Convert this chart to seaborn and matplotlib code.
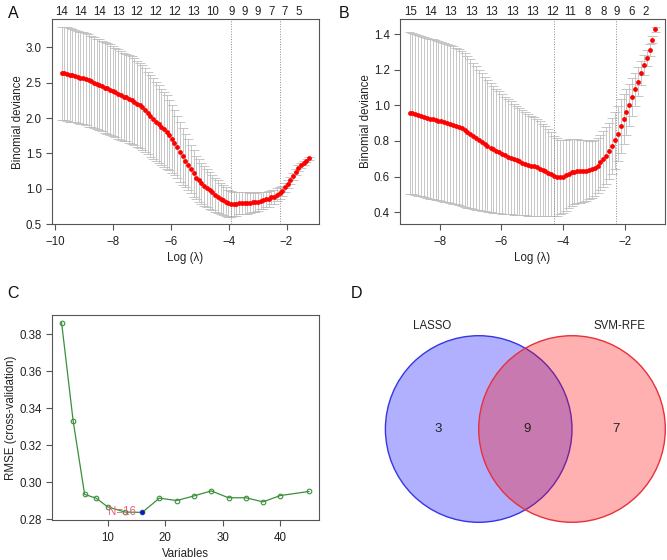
import numpy as np
import pandas as pd
import matplotlib
matplotlib.use("Agg")
import matplotlib.pyplot as plt
import seaborn as sns
from matplotlib.patches import Circle

# ---------------- Panel A : LASSO cross-validation (cohort 1) ----------------
a_loglam = [-9.77, -9.68, -9.58, -9.49, -9.40, -9.31, -9.21, -9.12, -9.03, -8.93,
            -8.84, -8.75, -8.66, -8.56, -8.47, -8.38, -8.28, -8.19, -8.10, -8.00,
            -7.91, -7.82, -7.73, -7.63, -7.54, -7.45, -7.35, -7.26, -7.17, -7.07,
            -6.98, -6.89, -6.80, -6.70, -6.61, -6.52, -6.42, -6.33, -6.24, -6.14,
            -6.05, -5.96, -5.87, -5.77, -5.68, -5.59, -5.49, -5.40, -5.31, -5.21,
            -5.12, -5.03, -4.94, -4.84, -4.75, -4.66, -4.56, -4.47, -4.38, -4.28,
            -4.19, -4.10, -4.01, -3.91, -3.82, -3.73, -3.63, -3.54, -3.45, -3.35,
            -3.26, -3.17, -3.08, -2.98, -2.89, -2.80, -2.70, -2.61, -2.52, -2.42,
            -2.33, -2.24, -2.15, -2.05, -1.96, -1.87, -1.77, -1.68, -1.59, -1.49,
            -1.40, -1.31, -1.22]
a_mean = [2.63, 2.63, 2.62, 2.61, 2.60, 2.59, 2.58, 2.57, 2.56, 2.55,
          2.53, 2.52, 2.50, 2.48, 2.47, 2.45, 2.43, 2.42, 2.40, 2.38,
          2.36, 2.34, 2.32, 2.30, 2.29, 2.27, 2.25, 2.23, 2.20, 2.18,
          2.15, 2.11, 2.07, 2.03, 1.99, 1.95, 1.91, 1.87, 1.84, 1.80,
          1.76, 1.71, 1.65, 1.59, 1.52, 1.46, 1.40, 1.34, 1.28, 1.22,
          1.16, 1.12, 1.08, 1.04, 1.01, 0.98, 0.95, 0.92, 0.89, 0.86,
          0.84, 0.82, 0.80, 0.79, 0.79, 0.79, 0.80, 0.80, 0.80, 0.80,
          0.80, 0.81, 0.81, 0.82, 0.83, 0.84, 0.85, 0.86, 0.88, 0.89,
          0.92, 0.94, 0.97, 1.02, 1.07, 1.12, 1.18, 1.24, 1.29, 1.33,
          1.37, 1.40, 1.43]
a_se = [0.66, 0.66, 0.66, 0.66, 0.66, 0.65, 0.65, 0.65, 0.65, 0.65,
        0.65, 0.64, 0.64, 0.64, 0.64, 0.64, 0.64, 0.64, 0.64, 0.63,
        0.63, 0.63, 0.63, 0.62, 0.62, 0.62, 0.62, 0.61, 0.61, 0.60,
        0.60, 0.59, 0.58, 0.58, 0.57, 0.56, 0.55, 0.54, 0.53, 0.52,
        0.50, 0.48, 0.46, 0.44, 0.42, 0.40, 0.38, 0.36, 0.34, 0.33,
        0.31, 0.30, 0.29, 0.28, 0.27, 0.26, 0.25, 0.24, 0.23, 0.22,
        0.21, 0.20, 0.19, 0.18, 0.17, 0.17, 0.16, 0.16, 0.15, 0.15,
        0.14, 0.14, 0.13, 0.13, 0.12, 0.12, 0.11, 0.11, 0.10, 0.10,
        0.09, 0.08, 0.07, 0.06, 0.06, 0.05, 0.05, 0.04, 0.04, 0.03,
        0.03, 0.02, 0.02]
a_vlines = [-3.92, -2.24]
a_top_pos = [-9.77, -9.12, -8.47, -7.82, -7.17, -6.52, -5.87, -5.21, -4.56,
             -3.91, -3.45, -2.98, -2.52, -2.05, -1.59]
a_top_lab = ["14", "14", "14", "13", "12", "12", "12", "13", "10",
             "9", "9", "9", "7", "7", "5"]
a_xticks = [-10, -8, -6, -4, -2]
a_yticks = [0.5, 1.0, 1.5, 2.0, 2.5, 3.0]

# ---------------- Panel B : LASSO cross-validation (cohort 2) ----------------
b_loglam = [-8.97, -8.88, -8.78, -8.69, -8.60, -8.50, -8.41, -8.32, -8.22, -8.13,
            -8.04, -7.94, -7.85, -7.75, -7.66, -7.57, -7.47, -7.38, -7.29, -7.19,
            -7.10, -7.01, -6.91, -6.82, -6.73, -6.63, -6.54, -6.45, -6.35, -6.26,
            -6.17, -6.07, -5.98, -5.88, -5.79, -5.70, -5.60, -5.51, -5.42, -5.32,
            -5.23, -5.14, -5.04, -4.95, -4.86, -4.76, -4.67, -4.58, -4.48, -4.39,
            -4.30, -4.20, -4.11, -4.01, -3.92, -3.83, -3.73, -3.64, -3.55, -3.45,
            -3.36, -3.27, -3.17, -3.08, -2.99, -2.89, -2.80, -2.71, -2.61, -2.52,
            -2.43, -2.33, -2.24, -2.14, -2.05, -1.96, -1.86, -1.77, -1.68, -1.58,
            -1.49, -1.40, -1.30, -1.21, -1.12, -1.02]
b_mean = [0.957, 0.955, 0.950, 0.945, 0.940, 0.935, 0.930, 0.926, 0.922, 0.918,
          0.914, 0.910, 0.905, 0.900, 0.895, 0.890, 0.884, 0.878, 0.871, 0.862,
          0.852, 0.840, 0.828, 0.816, 0.805, 0.794, 0.783, 0.773, 0.763, 0.753,
          0.744, 0.736, 0.728, 0.720, 0.712, 0.705, 0.698, 0.691, 0.685, 0.679,
          0.673, 0.667, 0.662, 0.657, 0.651, 0.645, 0.638, 0.630, 0.622, 0.612,
          0.603, 0.598, 0.597, 0.600, 0.607, 0.616, 0.624, 0.628, 0.630, 0.631,
          0.632, 0.634, 0.637, 0.641, 0.648, 0.662, 0.680, 0.697, 0.718, 0.744,
          0.772, 0.803, 0.840, 0.884, 0.922, 0.962, 1.005, 1.047, 1.090, 1.133,
          1.182, 1.226, 1.268, 1.312, 1.370, 1.428]
b_se = [0.453, 0.453, 0.452, 0.452, 0.451, 0.451, 0.450, 0.450, 0.449, 0.449,
        0.448, 0.447, 0.446, 0.445, 0.444, 0.443, 0.441, 0.439, 0.436, 0.432,
        0.426, 0.419, 0.411, 0.403, 0.395, 0.387, 0.379, 0.371, 0.364, 0.357,
        0.350, 0.343, 0.336, 0.330, 0.324, 0.318, 0.312, 0.306, 0.301, 0.296,
        0.291, 0.286, 0.281, 0.276, 0.271, 0.266, 0.260, 0.253, 0.245, 0.236,
        0.226, 0.218, 0.210, 0.203, 0.198, 0.193, 0.189, 0.185, 0.181, 0.177,
        0.173, 0.169, 0.165, 0.161, 0.158, 0.156, 0.156, 0.157, 0.158, 0.159,
        0.159, 0.158, 0.155, 0.150, 0.140, 0.130, 0.118, 0.106, 0.094, 0.082,
        0.068, 0.056, 0.044, 0.032, 0.022, 0.015]
b_vlines = [-4.29, -2.31]
b_top_pos = [-8.95, -8.29, -7.65, -6.98, -6.31, -5.64, -4.99, -4.36, -3.77,
             -3.20, -2.69, -2.26, -1.78, -1.34]
b_top_lab = ["15", "14", "13", "13", "13", "13", "13", "12", "11",
             "8", "8", "9", "6", "2"]
b_xticks = [-8, -6, -4, -2]
b_yticks = [0.4, 0.6, 0.8, 1.0, 1.2, 1.4]

# ---------------- Panel C : SVM-RFE ----------------
c_vars = [2, 4, 6, 8, 10, 13, 16, 19, 22, 25, 28, 31, 34, 37, 40, 45]
c_rmse = [0.3862, 0.3333, 0.2935, 0.2915, 0.2868, 0.2840, 0.2838, 0.2915,
          0.2902, 0.2927, 0.2954, 0.2917, 0.2917, 0.2895, 0.2929, 0.2951]
c_xticks = [10, 20, 30, 40]
c_yticks = [0.28, 0.30, 0.32, 0.34, 0.36, 0.38]

# ---------------- Panel D : Venn ----------------
venn_sets = ["LASSO", "SVM-RFE"]
venn_counts = [3, 9, 7]   # LASSO only, both, SVM-RFE only

# ---------------- style ----------------
sns.set_theme(style="white")
plt.rcParams["font.family"] = ["Liberation Sans", "DejaVu Sans"]

AX_COL = "#555555"
TXT_COL = "#222222"
BAR_COL = "#BDBDBD"
FS = 8.3

fig = plt.figure(figsize=(6.67, 5.6), dpi=100)
W, H = 667.0, 560.0


def px_axes(l, t, r, b):
    return fig.add_axes([l / W, 1 - b / H, (r - l) / W, (b - t) / H])


def r_style(ax):
    for s in ax.spines.values():
        s.set_visible(True)
        s.set_color(AX_COL)
        s.set_linewidth(0.8)
    ax.tick_params(direction="out", length=4.1, width=0.8, color=AX_COL,
                   labelsize=FS, labelcolor=TXT_COL, bottom=True, left=True)
    ax.tick_params(axis="x", pad=4.3)
    ax.tick_params(axis="y", pad=3.0)
    ax.grid(False)


def r_lim(vals):
    lo, hi = min(vals), max(vals)
    pad = 0.04 * (hi - lo)
    return lo - pad, hi + pad


def cv_panel(ax, loglam, mean, se, vlines, top_pos, top_lab, xticks, yticks):
    x = np.array(loglam)
    m = np.array(mean)
    s = np.array(se)
    lo, hi = m - s, m + s
    barw = 0.02 * (x.max() - x.min())
    ax.vlines(x, lo, hi, color=BAR_COL, lw=0.6, zorder=1)
    ax.hlines(hi, x - barw, x + barw, color=BAR_COL, lw=0.6, zorder=1)
    ax.hlines(lo, x - barw, x + barw, color=BAR_COL, lw=0.6, zorder=1)
    df = pd.DataFrame({"loglam": x, "deviance": m})
    sns.scatterplot(data=df, x="loglam", y="deviance", color="red", s=12,
                    linewidth=0, ax=ax, zorder=3)
    for v in vlines:
        ax.axvline(v, color="#8A8A8A", lw=0.7, ls=(0, (1, 1.6)), zorder=2)
    ax.set_xlim(*r_lim(list(x)))
    ax.set_ylim(*r_lim(list(lo) + list(hi)))
    ax.set_xticks(xticks)
    ax.set_xticklabels(["\u2212" + str(abs(t)) if t < 0 else str(t) for t in xticks])
    ax.set_yticks(yticks)
    ax.set_yticklabels([f"{t:.1f}" for t in yticks])
    r_style(ax)
    ax.set_xlabel("Log (\u03bb)", fontsize=FS, color=TXT_COL, labelpad=3)
    ax.set_ylabel("Binomial deviance", fontsize=FS, color=TXT_COL, labelpad=1.5)
    sec = ax.secondary_xaxis("top")
    sec.set_xticks(top_pos)
    sec.set_xticklabels(top_lab)
    sec.tick_params(length=0, pad=0.5, labelsize=FS, labelcolor=TXT_COL)
    sec.spines["top"].set_visible(False)


# Panel A
axA = px_axes(51.7, 19, 319, 224.3)
cv_panel(axA, a_loglam, a_mean, a_se, a_vlines, a_top_pos, a_top_lab,
         a_xticks, a_yticks)

# Panel B
axB = px_axes(399.7, 19, 665.3, 224)
cv_panel(axB, b_loglam, b_mean, b_se, b_vlines, b_top_pos, b_top_lab,
         b_xticks, b_yticks)

# Panel C
axC = px_axes(51.7, 315, 319, 520)
GREEN = "#3A8F3A"
dfc = pd.DataFrame({"Variables": c_vars, "RMSE": c_rmse})
sns.lineplot(data=dfc, x="Variables", y="RMSE", color=GREEN, lw=0.9,
             marker="o", markersize=3.3, markerfacecolor="none",
             markeredgecolor=GREEN, markeredgewidth=0.8, ax=axC)
best = int(np.argmin(c_rmse))
dfb = dfc.iloc[[best]]
sns.scatterplot(data=dfb, x="Variables", y="RMSE", color="#1010E0", s=11,
                linewidth=0, ax=axC, zorder=4)
axC.annotate(f"N={c_vars[best]}", (c_vars[best], c_rmse[best]),
             xytext=(-4.5, 0), textcoords="offset points", ha="right",
             va="center", fontsize=FS, color="#E8607A", zorder=5)
axC.set_xlim(*r_lim(c_vars))
axC.set_ylim(*r_lim(c_rmse))
axC.set_xticks(c_xticks)
axC.set_yticks(c_yticks)
axC.set_yticklabels([f"{t:.2f}" for t in c_yticks])
r_style(axC)
axC.set_xlabel("Variables", fontsize=FS, color=TXT_COL, labelpad=3)
axC.set_ylabel("RMSE (cross-validation)", fontsize=FS, color=TXT_COL, labelpad=1.5)

# Panel D (Venn) -- unit coordinates, radius 1, centre distance 1
axD = px_axes(333, 280, 667, 560)
scale = 93.3
cx0, cy0 = 525.35, 429.0
axD.set_xlim((333 - cx0) / scale, (667 - cx0) / scale)
axD.set_ylim((cy0 - 560) / scale, (cy0 - 280) / scale)
axD.axis("off")
axD.add_patch(Circle((-0.5, 0), 1.0, facecolor=(0, 0, 1, 0.31),
                     edgecolor="#3535E6", lw=1.0))
axD.add_patch(Circle((0.5, 0), 1.0, facecolor=(1, 0, 0, 0.31),
                     edgecolor="#E8303A", lw=1.0))
for xpos, cnt in zip([-0.94, 0.02, 0.975], venn_counts):
    axD.text(xpos, 0, str(cnt), ha="center", va="center", fontsize=9.5,
             color=TXT_COL)
axD.text(-1.0, 1.10, venn_sets[0], ha="center", va="center", fontsize=FS,
         color=TXT_COL)
axD.text(1.01, 1.10, venn_sets[1], ha="center", va="center", fontsize=FS,
         color=TXT_COL)

# panel letters
for lab, (px, py) in zip("ABCD", [(13.5, 14), (344, 13.5), (13, 294), (356, 294)]):
    fig.text(px / W, 1 - py / H, lab, ha="center", va="center", fontsize=11.5,
             color="#111111")

fig.savefig("out.png", dpi=100)
